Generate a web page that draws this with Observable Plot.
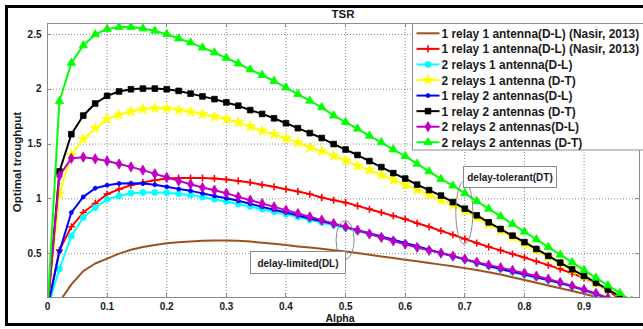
<!DOCTYPE html>
<html>
<head>
<meta charset="utf-8">
<script src="https://cdn.jsdelivr.net/npm/d3@7"></script>
<script src="https://cdn.jsdelivr.net/npm/@observablehq/plot@0.6"></script>
<style>
html,body{margin:0;padding:0;background:#fff;}
#wrap{position:relative;width:643px;height:329px;overflow:hidden;font-family:"Liberation Sans",Arial,Helvetica,sans-serif;}
#wrap svg{position:absolute;left:0;top:0;}
.frame{position:absolute;left:5px;top:5px;width:660px;height:315px;border:3px solid #000;pointer-events:none;}
</style>
</head>
<body>
<div id="wrap"><div class="frame"></div></div>
<script>
// ---- data ----
const alpha = [0,0.02,0.04,0.06,0.08,0.1,0.12,0.14,0.16,0.18,0.2,0.22,0.24,0.26,0.28,0.3,0.32,0.34,0.36,0.38,0.4,0.42,0.44,0.46,0.48,0.5,0.52,0.54,0.56,0.58,0.6,0.62,0.64,0.66,0.68,0.7,0.72,0.74,0.76,0.78,0.8,0.82,0.84,0.86,0.88,0.9,0.92,0.94,0.96,0.98,1];

const r1a1NasirLine = [0,0.06,0.22,0.34,0.41,0.455,0.5,0.535,0.56,0.58,0.595,0.605,0.612,0.617,0.62,0.62,0.617,0.61,0.6,0.59,0.578,0.566,0.556,0.545,0.532,0.52,0.505,0.49,0.475,0.46,0.445,0.43,0.415,0.4,0.385,0.368,0.35,0.33,0.31,0.285,0.26,0.235,0.21,0.185,0.16,0.135,0.105,0.078,0.05,0.025,0];
const r1a1NasirPlus = [0,0.532,0.745,0.875,0.957,1.043,1.088,1.125,1.149,1.17,1.185,1.19,1.19,1.19,1.185,1.176,1.164,1.149,1.128,1.11,1.088,1.067,1.043,1.012,0.988,0.966,0.936,0.906,0.875,0.845,0.815,0.778,0.745,0.708,0.672,0.635,0.597,0.562,0.53,0.497,0.465,0.43,0.395,0.36,0.32,0.28,0.23,0.165,0.085,0.02,0];
const r2a1DL = [0,0.36,0.662,0.83,0.92,0.997,1.027,1.052,1.058,1.058,1.055,1.047,1.034,1.016,0.997,0.975,0.952,0.93,0.906,0.883,0.86,0.834,0.808,0.784,0.76,0.733,0.706,0.68,0.652,0.622,0.592,0.562,0.532,0.503,0.475,0.445,0.415,0.385,0.358,0.333,0.308,0.283,0.258,0.23,0.2,0.165,0.13,0.09,0.05,0.015,0];
const r2a1DT = [0,1.05,1.4,1.545,1.645,1.727,1.766,1.797,1.818,1.827,1.825,1.81,1.794,1.773,1.75,1.727,1.696,1.66,1.62,1.59,1.55,1.514,1.468,1.435,1.392,1.35,1.3,1.262,1.219,1.173,1.128,1.082,1.036,0.988,0.945,0.89,0.83,0.77,0.71,0.65,0.59,0.53,0.47,0.41,0.35,0.29,0.23,0.17,0.11,0.05,0];
const r1a2DL = [0,0.52,0.875,1.018,1.097,1.125,1.14,1.143,1.14,1.128,1.11,1.09,1.073,1.05,1.027,1.005,0.982,0.955,0.927,0.9,0.875,0.848,0.82,0.795,0.77,0.742,0.714,0.686,0.657,0.627,0.597,0.567,0.537,0.507,0.478,0.448,0.418,0.388,0.36,0.335,0.31,0.285,0.26,0.232,0.202,0.167,0.132,0.092,0.052,0.016,0];
const r1a2DT = [0,1.25,1.59,1.76,1.87,1.94,1.98,2.0,2.006,2.006,2.0,1.985,1.96,1.935,1.91,1.88,1.85,1.81,1.775,1.735,1.69,1.645,1.6,1.555,1.5,1.45,1.4,1.345,1.29,1.235,1.185,1.13,1.08,1.03,0.97,0.91,0.85,0.786,0.725,0.664,0.605,0.543,0.48,0.418,0.357,0.297,0.235,0.172,0.11,0.05,0];
const r2a2DL = [0,1.21,1.37,1.38,1.365,1.345,1.318,1.292,1.262,1.228,1.197,1.164,1.134,1.103,1.079,1.052,1.018,0.988,0.957,0.927,0.897,0.866,0.836,0.806,0.775,0.745,0.714,0.68,0.648,0.616,0.586,0.557,0.53,0.505,0.478,0.45,0.423,0.397,0.372,0.347,0.322,0.296,0.268,0.238,0.206,0.172,0.137,0.097,0.057,0.02,0];
const r2a2DT = [0,1.89,2.24,2.4,2.5,2.55,2.567,2.567,2.555,2.533,2.503,2.463,2.426,2.38,2.335,2.285,2.235,2.18,2.13,2.075,2.015,1.955,1.895,1.835,1.76,1.7,1.64,1.575,1.515,1.45,1.39,1.32,1.25,1.18,1.12,1.05,0.98,0.91,0.84,0.77,0.7,0.63,0.56,0.49,0.42,0.35,0.28,0.21,0.14,0.07,0];

const seriesLabels = [
  "1 relay 1 antenna(D-L) (Nasir, 2013)",
  "1 relay 1 antenna(D-L) (Nasir, 2013)",
  "2 relays 1 antenna(D-L)",
  "2 relays 1 antenna (D-T)",
  "1 relay 2 antennas(D-L)",
  "1 relay 2 antennas (D-T)",
  "2 relays 2 antennas(D-L)",
  "2 relays 2 antennas (D-T)"
];
const xTicks = [0,0.1,0.2,0.3,0.4,0.5,0.6,0.7,0.8,0.9];
const yTicks = [0.5,1,1.5,2,2.5];
const titleText = "TSR";
const xLabel = "Alpha";
const yLabel = "Optimal troughput";
const notes = [
  {text: "delay-tolerant(DT)", alpha: 0.7, value: 0.87},
  {text: "delay-limited(DL)", alpha: 0.5, value: 0.62}
];

// ---- styles ----
const styles = [
  {color:"#a0501e", symbol:null},
  {color:"#ff0000", symbol:"plus", r:2.4, stroked:true},
  {color:"#00ffff", symbol:"circle", r:3},
  {color:"#ffff00", symbol:"star", r:3.3},
  {color:"#0000ff", symbol:"circle", r:2},
  {color:"#000000", symbol:"square", r:3.2},
  {color:"#bf00bf", symbol:"diamond", r:3.1},
  {color:"#00ff00", symbol:"triangle", r:3.1}
];
const valuesList = [r1a1NasirLine, r1a1NasirPlus, r2a1DL, r2a1DT, r1a2DL, r1a2DT, r2a2DL, r2a2DT];
const tables = valuesList.map((vals, i) => alpha.map((a, j) => ({alpha: a, value: vals[j], s: i})));

const gridStyle = {stroke:"#8a8a8a", strokeOpacity:1, strokeDasharray:"1,2", strokeWidth:1};
const marks = [
  Plot.gridX(xTicks, gridStyle),
  Plot.gridY(yTicks, gridStyle)
];
tables.forEach((d, i) => {
  const st = styles[i];
  marks.push(Plot.line(d, {x:"alpha", y:"value", stroke:st.color, strokeWidth:2, clip:true}));
  if (st.symbol) {
    const pts = d.filter(p => p.alpha > 0 && p.alpha < 1);
    marks.push(Plot.dot(pts, st.stroked
      ? {x:"alpha", y:"value", symbol:st.symbol, r:st.r, stroke:st.color, strokeWidth:1.6, fill:"none", clip:true}
      : {x:"alpha", y:"value", symbol:st.symbol, r:st.r, fill:st.color, stroke:st.color, strokeWidth:0.8, clip:true}));
  }
});
marks.push(
  Plot.axisX(xTicks, {tickSize:0, tickPadding:5, tickFormat:d => String(d), label:null, fontSize:10, fontWeight:"bold"}),
  Plot.axisY(yTicks, {tickSize:0, tickPadding:6, tickFormat:d => String(d), label:null, fontSize:10, fontWeight:"bold"}),
  Plot.frame({stroke:"#8c8c8c"})
);

const chart = Plot.plot({
  width: 643, height: 329,
  marginLeft: 47, marginRight: 4, marginTop: 23, marginBottom: 32,
  x: {domain:[0, 0.993]},
  y: {domain:[0.1, 2.6]},
  style: {fontFamily:'"Liberation Sans", Arial, sans-serif', fontWeight:"bold", fontSize:"10px", color:"#1a1a1a", background:"transparent"},
  marks
});
document.getElementById("wrap").prepend(chart);

// inward ticks, ellipses, via the plot's own scales
const xs = chart.scale("x"), ys = chart.scale("y");
const X = v => xs.apply(v), Y = v => ys.apply(v);
const svg = d3.select(chart);
const [yb, yt] = ys.range, [xl, xr] = xs.range;
const tg = svg.append("g").attr("stroke", "#8c8c8c").attr("stroke-width", 1);
xTicks.forEach(t => {
  const x = Math.round(X(t)) + 0.5;
  tg.append("line").attr("x1", x).attr("x2", x).attr("y1", yb).attr("y2", yb - 4);
  tg.append("line").attr("x1", x).attr("x2", x).attr("y1", yt).attr("y2", yt + 4);
});
yTicks.forEach(t => {
  const y = Math.round(Y(t)) + 0.5;
  tg.append("line").attr("y1", y).attr("y2", y).attr("x1", xl).attr("x2", xl + 4);
  tg.append("line").attr("y1", y).attr("y2", y).attr("x1", xr).attr("x2", xr - 4);
});
const ellipseRadii = [[8.5, 31.5], [9, 19.5]];
notes.forEach((n, i) => {
  svg.append("ellipse").attr("cx", X(n.alpha)).attr("cy", Y(n.value))
    .attr("rx", ellipseRadii[i][0]).attr("ry", ellipseRadii[i][1])
    .attr("fill", "none").attr("stroke", "#8a8a8a").attr("stroke-width", 1);
});

// overlay: texts, note boxes, legend
const ov = d3.select("#wrap").append("svg").attr("width", 643).attr("height", 329)
  .style("font-family", '"Liberation Sans", Arial, sans-serif').style("font-weight", "bold");
ov.append("text").attr("x", 343).attr("y", 13.5).attr("text-anchor", "middle").attr("dominant-baseline", "central")
  .attr("font-size", 11.5).attr("fill", "#1a1a1a").text(titleText);
ov.append("text").attr("x", 340).attr("y", 318).attr("text-anchor", "middle").attr("dominant-baseline", "central")
  .attr("font-size", 10.5).attr("fill", "#1a1a1a").text(xLabel);
ov.append("text").attr("transform", "translate(17,162) rotate(-90)").attr("text-anchor", "middle").attr("dominant-baseline", "central")
  .attr("font-size", 11.5).attr("fill", "#1a1a1a").text(yLabel);

const noteBoxes = [[463.5, 166.5, 93, 21], [250.5, 251.5, 95, 22]];
notes.forEach((n, i) => {
  const [bx, by, bw, bh] = noteBoxes[i];
  ov.append("rect").attr("x", bx).attr("y", by).attr("width", bw).attr("height", bh)
    .attr("fill", "#fff").attr("stroke", "#8a8a8a");
  ov.append("text").attr("x", bx + bw / 2).attr("y", by + bh / 2 + 0.5).attr("text-anchor", "middle")
    .attr("dominant-baseline", "central").attr("font-size", 10).attr("fill", "#1a1a1a").text(n.text);
});

const symMap = {plus: d3.symbolPlus, circle: d3.symbolCircle, star: d3.symbolStar, square: d3.symbolSquare, diamond: d3.symbolDiamond, triangle: d3.symbolTriangle};
ov.append("rect").attr("x", 412.5).attr("y", 23.5).attr("width", 240).attr("height", 126.5)
  .attr("fill", "#fff").attr("stroke", "#8c8c8c");
seriesLabels.forEach((lab, i) => {
  const st = styles[i];
  const y = 33.3 + 15.57 * i;
  ov.append("line").attr("x1", 416.5).attr("x2", 439.5).attr("y1", y).attr("y2", y)
    .attr("stroke", st.color).attr("stroke-width", 2);
  if (st.symbol) {
    const p = d3.symbol().type(symMap[st.symbol]).size(Math.PI * st.r * st.r)();
    const el = ov.append("path").attr("d", p).attr("transform", `translate(428,${y})`);
    if (st.stroked) el.attr("fill", "none").attr("stroke", st.color).attr("stroke-width", 1.6);
    else el.attr("fill", st.color).attr("stroke", st.color).attr("stroke-width", 0.8);
  }
  ov.append("text").attr("x", 441.5).attr("y", y + 0.5).attr("dominant-baseline", "central")
    .attr("font-size", 11.9).attr("fill", "#1a1a1a").text(lab);
});
</script>
</body>
</html>
